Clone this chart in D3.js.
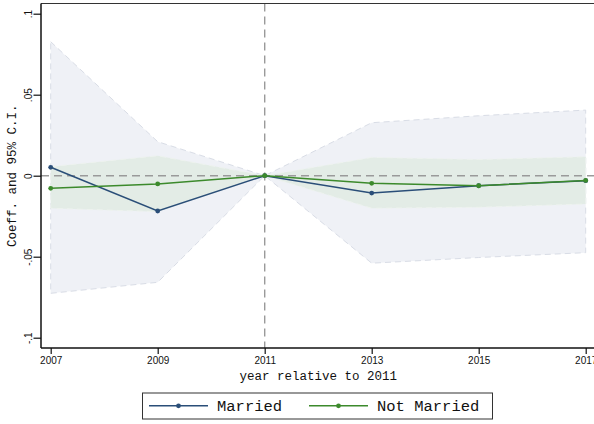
<!DOCTYPE html>
<html>
<head>
<meta charset="utf-8">
<script src="https://cdn.jsdelivr.net/npm/d3@7"></script>
<style>
  html, body { margin: 0; padding: 0; background: #fff; }
  svg { display: block; }
</style>
</head>
<body>
<svg id="chart" width="594" height="424"></svg>
<script>
// Event-study coefficients by survey year, relative to 2011
const years = [2007, 2009, 2011, 2013, 2015, 2017];
const marriedCoef = [0.0052, -0.0218, 0, -0.0107, -0.0062, -0.0031];
const marriedLo   = [-0.0726, -0.0658, 0, -0.0540, -0.0505, -0.0475];
const marriedHi   = [0.0827, 0.0210, 0, 0.0327, 0.0370, 0.0405];
const notMarriedCoef = [-0.0078, -0.0051, 0, -0.0047, -0.0062, -0.0029];
const notMarriedLo   = [-0.0201, -0.0222, 0, -0.0201, -0.0195, -0.0175];
const notMarriedHi   = [0.0056, 0.0123, 0, 0.0113, 0.0100, 0.0117];
const yTicks = [-0.1, -0.05, 0, 0.05, 0.1];
const yTickLabels = ["-.1", "-.05", "0", ".05", ".1"];
const seriesNames = ["Married", "Not Married"];

const svg = d3.select("#chart");
const mono = "'Liberation Mono', 'Courier New', monospace";
const sans = "'Liberation Sans', Helvetica, Arial, sans-serif";

const plot = { left: 41, right: 595.5, top: 3.5, bottom: 348 };
const x = d3.scaleLinear().domain([2007, 2017]).range([50.7, 585.7]);
const y = d3.scaleLinear().domain([-0.1, 0.1]).range([337.7, 13.7]);

const blue = "#2a4e78";
const green = "#3c8a2c";

const rows = (lo, hi) => years.map((yr, i) => ({ yr, lo: lo[i], hi: hi[i] }));
const area = d3.area().x(d => x(d.yr)).y0(d => y(d.lo)).y1(d => y(d.hi));

// confidence bands
function band(data, fill, stroke) {
  svg.append("path").datum(data)
    .attr("d", area)
    .attr("fill", fill)
    .attr("stroke", stroke)
    .attr("stroke-width", 1)
    .attr("stroke-dasharray", "6,4");
}
band(rows(marriedLo, marriedHi), "#eff1f6", "#d9dde6");
band(rows(notMarriedLo, notMarriedHi), "#e3ece6", "#eef3ef");

// reference lines
svg.append("line")
  .attr("x1", plot.left).attr("x2", plot.right)
  .attr("y1", y(0)).attr("y2", y(0))
  .attr("stroke", "#9a9a9a").attr("stroke-width", 1.4)
  .attr("stroke-dasharray", "8,5");
svg.append("line")
  .attr("x1", x(2011)).attr("x2", x(2011))
  .attr("y1", plot.top).attr("y2", plot.bottom)
  .attr("stroke", "#9a9a9a").attr("stroke-width", 1.4)
  .attr("stroke-dasharray", "8,5");

// coefficient lines with markers
const line = d3.line().x(d => x(d.yr)).y(d => y(d.v));
function series(vals, color) {
  const data = years.map((yr, i) => ({ yr, v: vals[i] }));
  svg.append("path").datum(data)
    .attr("d", line)
    .attr("fill", "none")
    .attr("stroke", color)
    .attr("stroke-width", 1.5);
  svg.selectAll(null).data(data).enter().append("circle")
    .attr("cx", d => x(d.yr)).attr("cy", d => y(d.v))
    .attr("r", 2.4).attr("fill", color);
}
series(marriedCoef, blue);
series(notMarriedCoef, green);

// plot frame (top edge) and axes
svg.append("line")
  .attr("x1", plot.left).attr("x2", plot.right)
  .attr("y1", plot.top).attr("y2", plot.top)
  .attr("stroke", "#333").attr("stroke-width", 1.2);

const yAxis = svg.append("g")
  .attr("transform", `translate(${plot.left},0)`)
  .call(d3.axisLeft(y).tickValues(yTicks).tickSize(7.5).tickFormat((d, i) => yTickLabels[i]));
yAxis.select(".domain").attr("d", `M0,${plot.top}V${plot.bottom}`).attr("stroke", "#111").attr("stroke-width", 1.5);
yAxis.selectAll(".tick line").attr("stroke", "#111").attr("stroke-width", 1.2);
yAxis.selectAll(".tick text")
  .attr("font-family", sans).attr("font-size", 10).attr("fill", "#111")
  .attr("text-anchor", "middle")
  .attr("transform", "rotate(-90)")
  .attr("x", 0).attr("y", -13).attr("dy", "0");
yAxis.selectAll(".tick text").attr("transform", function() {
  return "translate(-13,0) rotate(-90)";
}).attr("y", 0).attr("dy", "0.35em");

const xAxis = svg.append("g")
  .attr("transform", `translate(0,${plot.bottom})`)
  .call(d3.axisBottom(x).tickValues(years).tickSize(6).tickFormat(d3.format("d")));
xAxis.select(".domain").attr("d", `M${plot.left},0H${plot.right}`).attr("stroke", "#111").attr("stroke-width", 1.5);
xAxis.selectAll(".tick line").attr("stroke", "#111").attr("stroke-width", 1.2);
xAxis.selectAll(".tick text")
  .attr("font-family", sans).attr("font-size", 10).attr("fill", "#111")
  .attr("y", 9).attr("dy", "0.71em");

// axis titles
svg.append("text")
  .attr("x", (plot.left + plot.right) / 2).attr("y", 380)
  .attr("text-anchor", "middle")
  .attr("font-family", mono).attr("font-size", 12.5).attr("fill", "#111")
  .text("year relative to 2011");
svg.append("text")
  .attr("transform", `translate(16,${(y(0.1) + y(-0.1)) / 2}) rotate(-90)`)
  .attr("text-anchor", "middle")
  .attr("font-family", mono).attr("font-size", 12.5).attr("fill", "#111")
  .text("Coeff. and 95% C.I.");

// legend
const legend = svg.append("g");
legend.append("rect")
  .attr("x", 142.5).attr("y", 393).attr("width", 350).attr("height", 26)
  .attr("fill", "#fff").attr("stroke", "#333").attr("stroke-width", 1);
const legendItems = [
  { name: seriesNames[0], color: blue, x0: 149, tx: 217 },
  { name: seriesNames[1], color: green, x0: 309, tx: 377 }
];
legendItems.forEach(it => {
  legend.append("line")
    .attr("x1", it.x0).attr("x2", it.x0 + 59)
    .attr("y1", 405.8).attr("y2", 405.8)
    .attr("stroke", it.color).attr("stroke-width", 1.5);
  legend.append("circle")
    .attr("cx", it.x0 + 29.5).attr("cy", 405.8).attr("r", 2.4).attr("fill", it.color);
  legend.append("text")
    .attr("x", it.tx).attr("y", 406).attr("dy", "0.35em")
    .attr("font-family", mono).attr("font-size", 15.5).attr("fill", "#111")
    .text(it.name);
});
</script>
</body>
</html>
